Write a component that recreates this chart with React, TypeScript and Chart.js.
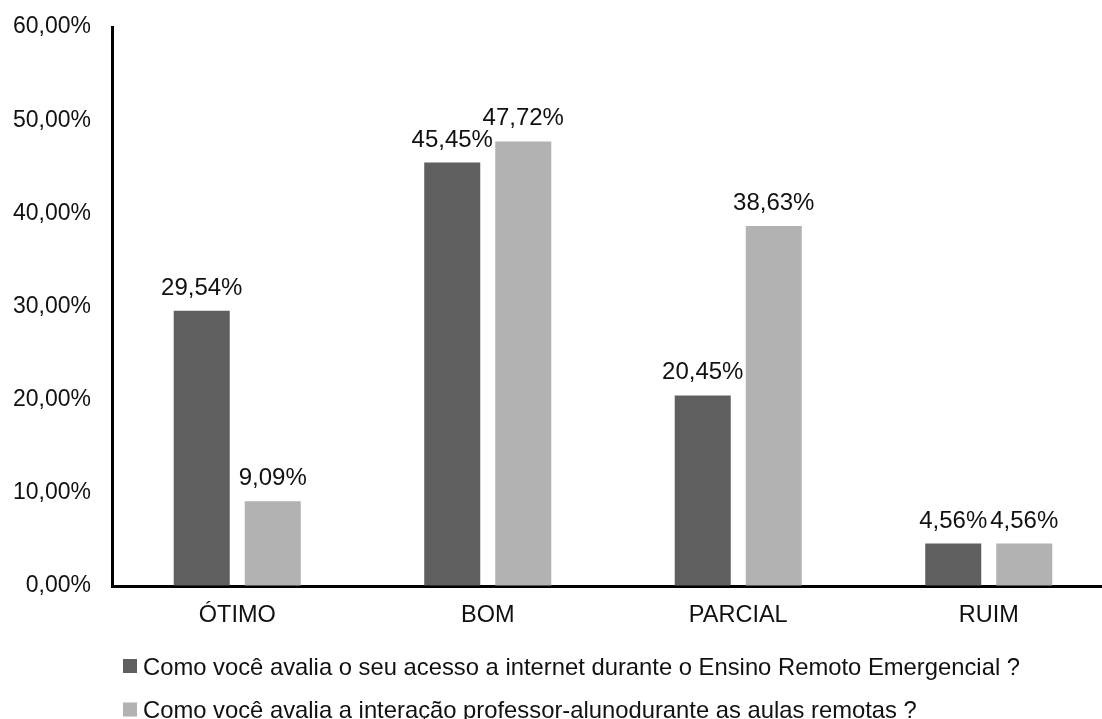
import React, { useEffect, useRef } from "react";
import { Chart, registerables } from "chart.js";

Chart.register(...registerables);

const categories = ["ÓTIMO", "BOM", "PARCIAL", "RUIM"];
const acessoInternet = [29.54, 45.45, 20.45, 4.56];
const interacaoProfessorAluno = [9.09, 47.72, 38.63, 4.56];
const seriesNames = [
  "Como você avalia o seu acesso a internet durante o Ensino Remoto Emergencial ?",
  "Como você avalia a interação professor-alunodurante as aulas remotas ?",
];
const seriesColors = ["#5f5f5f", "#b2b2b2"];
const yMin = 0;
const yMax = 60;
const yStep = 10;

const FONT = "'Liberation Sans', Arial, sans-serif";
const TEXT = "#111111";

const pct = (v: number) => v.toFixed(2).replace(".", ",") + "%";

// Value labels centred above every bar
const barValueLabels = {
  id: "barValueLabels",
  afterDatasetsDraw(chart: any) {
    const ctx = chart.ctx;
    ctx.save();
    ctx.font = `24px ${FONT}`;
    ctx.fillStyle = TEXT;
    ctx.textAlign = "center";
    ctx.textBaseline = "alphabetic";
    chart.data.datasets.forEach((ds: any, di: number) => {
      const meta = chart.getDatasetMeta(di);
      meta.data.forEach((bar: any, i: number) => {
        ctx.fillText(pct(ds.data[i]), bar.x, bar.y - 16);
      });
    });
    ctx.restore();
  },
};

// Left-aligned legend, one series per row, under the category axis
const stackedLegend = {
  id: "stackedLegend",
  afterDraw(chart: any) {
    const ctx = chart.ctx;
    const area = chart.chartArea;
    ctx.save();
    ctx.font = `23.8px ${FONT}`;
    ctx.textAlign = "left";
    ctx.textBaseline = "alphabetic";
    chart.data.datasets.forEach((ds: any, i: number) => {
      const cy = area.bottom + 80 + i * 43.5;
      ctx.fillStyle = ds.backgroundColor;
      ctx.fillRect(123, cy - 7, 14, 14);
      ctx.fillStyle = TEXT;
      ctx.fillText(ds.label, 143, cy + 8.5);
    });
    ctx.restore();
  },
};

export default function App() {
  const canvasRef = useRef<HTMLCanvasElement | null>(null);

  useEffect(() => {
    if (!canvasRef.current) return;
    const chart = new Chart(canvasRef.current, {
      type: "bar",
      data: {
        labels: categories,
        datasets: [
          {
            label: seriesNames[0],
            data: acessoInternet,
            backgroundColor: seriesColors[0],
            categoryPercentage: 0.567,
            barPercentage: 0.789,
          },
          {
            label: seriesNames[1],
            data: interacaoProfessorAluno,
            backgroundColor: seriesColors[1],
            categoryPercentage: 0.567,
            barPercentage: 0.789,
          },
        ],
      },
      options: {
        responsive: false,
        animation: false,
        layout: {
          padding: { top: 27, right: 0, left: 0, bottom: 73 },
        },
        plugins: {
          legend: { display: false },
          tooltip: { enabled: false },
        },
        scales: {
          x: {
            grid: { drawOnChartArea: false, drawTicks: false },
            border: { display: true, color: "#000", width: 3 },
            ticks: {
              color: TEXT,
              font: { family: FONT, size: 23.5 },
              padding: 15,
            },
            afterFit(scale: any) {
              scale.height = 60;
              scale.paddingLeft = 0;
              scale.paddingRight = 0;
            },
          },
          y: {
            min: yMin,
            max: yMax,
            grid: { drawOnChartArea: false, drawTicks: false },
            border: { display: true, color: "#000", width: 3 },
            ticks: {
              stepSize: yStep,
              color: TEXT,
              font: { family: FONT, size: 23 },
              padding: 21,
              callback: (v: any) => pct(Number(v)),
            },
            afterFit(scale: any) {
              scale.width = 112;
              scale.paddingTop = 0;
              scale.paddingBottom = 0;
            },
          },
        },
      },
      plugins: [barValueLabels, stackedLegend],
    });
    return () => chart.destroy();
  }, []);

  return (
    <div
      style={{
        position: "absolute",
        left: 0,
        top: 0,
        width: 1102,
        height: 719,
        overflow: "hidden",
        background: "#ffffff",
      }}
    >
      <canvas ref={canvasRef} width={1114} height={719} style={{ display: "block" }} />
    </div>
  );
}
